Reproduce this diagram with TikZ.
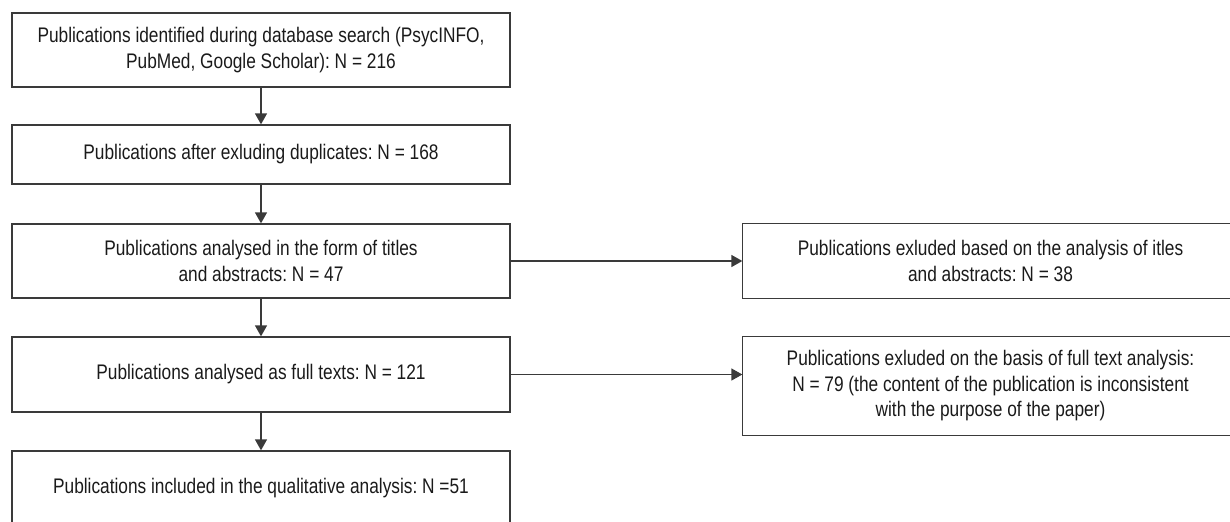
\documentclass[tikz,border=0pt]{standalone}
\usepackage{fontspec}
\setmainfont{Liberation Sans}[FakeStretch=0.82]
\usepackage{tikz}
\usetikzlibrary{arrows.meta}
\definecolor{linegray}{HTML}{3A3A3A}
\definecolor{textgray}{HTML}{1A1A1A}
\frenchspacing

\begin{document}
\begin{tikzpicture}[
  box/.style={draw=linegray, line width=0.75pt, text=textgray, align=center,
    inner sep=0pt, font=\fontsize{12}{14.5}\selectfont},
  openbox/.style={box, draw=none},
  edge/.style={draw=linegray, line width=0.75pt},
  flow/.style={edge, -{Triangle[length=0.22cm,width=0.24cm]}}
]
\useasboundingbox (0,0) rectangle (24.6,-10.42);

% main column
\node[box, minimum width=9.96cm, minimum height=1.48cm] (search) at (5.22,-1.0)
  {Publications identified during database search (PsycINFO,\\PubMed, Google Scholar): N = 216};
\node[box, minimum width=9.96cm, minimum height=1.18cm] (nodup) at (5.22,-3.09)
  {Publications after exluding duplicates: N = 168};
\node[box, minimum width=9.96cm, minimum height=1.48cm] (titles) at (5.22,-5.22)
  {Publications analysed in the form of titles\\and abstracts: N = 47};
\node[box, minimum width=9.96cm, minimum height=1.5cm] (full) at (5.22,-7.49)
  {Publications analysed as full texts: N = 121};
\node[box, minimum width=9.96cm, minimum height=1.5cm] (incl) at (5.22,-9.77)
  {Publications included in the qualitative analysis: N =51};

% excluded, cut off at the right margin
\node[openbox, minimum width=9.9cm, minimum height=1.48cm] (exTitles) at (19.81,-5.22)
  {Publications exluded based on the analysis of itles\\and abstracts: N = 38};
\node[openbox, minimum width=9.9cm, minimum height=1.96cm] (exFull) at (19.81,-7.72)
  {Publications exluded on the basis of full text analysis:\\N = 79 (the content of the publication is inconsistent\\with the purpose of the paper)};
\draw[edge] (exTitles.north east) -- (exTitles.north west) -- (exTitles.south west) -- (exTitles.south east);
\draw[edge] (exFull.north east) -- (exFull.north west) -- (exFull.south west) -- (exFull.south east);

\draw[flow] (search) -- (nodup);
\draw[flow] (nodup) -- (titles);
\draw[flow] (titles) -- (full);
\draw[flow] (full) -- (incl);

\draw[flow] (titles.east) -- (exTitles.west);
\draw[flow] (full.east) -- (full.east -| exFull.west);
\end{tikzpicture}
\end{document}
